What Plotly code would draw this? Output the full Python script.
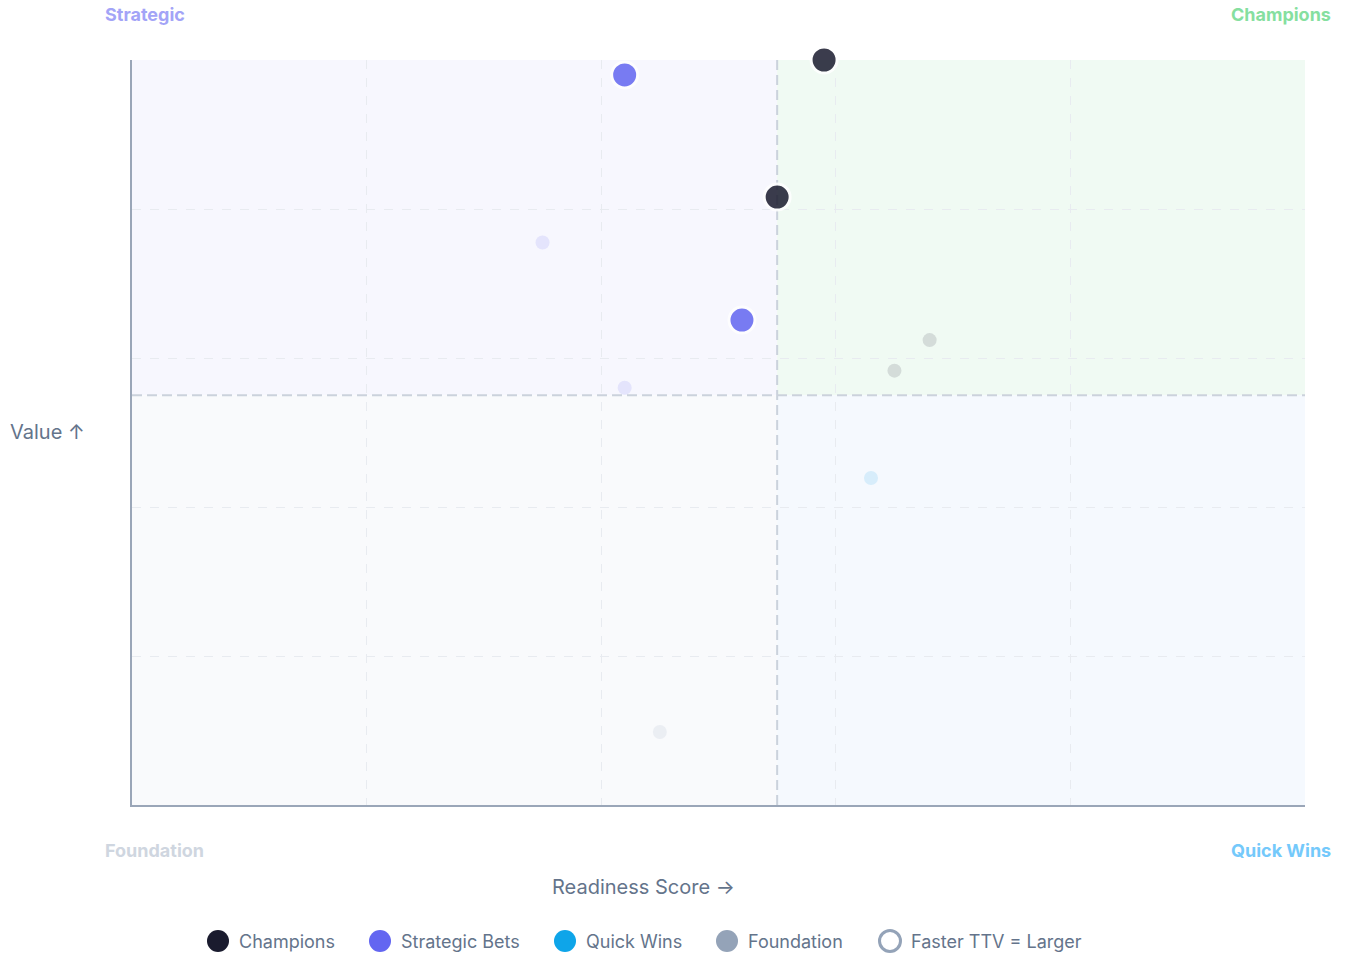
import plotly.graph_objects as go

# ---- data ----
categories = ["Champions", "Strategic Bets", "Quick Wins", "Foundation"]
colors = {"Champions": "#1a1b2e", "Strategic Bets": "#6366f1",
          "Quick Wins": "#0ea5e9", "Foundation": "#94a3b8"}

# highlighted (active) initiatives
active_cat = ["Champions", "Champions", "Strategic Bets", "Strategic Bets"]
active_x = [59.0, 55.0, 42.0, 52.0]
active_y = [100.0, 81.6, 98.0, 65.1]

# dimmed initiatives
dim_cat = ["Strategic Bets", "Strategic Bets", "Foundation", "Quick Wins", "Champions", "Champions"]
dim_x = [35.0, 42.0, 45.0, 63.0, 65.0, 68.0]
dim_y = [75.5, 56.0, 9.8, 43.9, 58.3, 62.4]

legend_labels = ["Champions", "Strategic Bets", "Quick Wins", "Foundation", "Faster TTV = Larger"]

threshold_x = 55
threshold_y = 55

FONT = "Inter"
TEXT = "#64748b"
fig = go.Figure()

# plot-area geometry (pixels) for paper conversions
L, R, T, B = 132, 1305, 60, 805
def px(x):
    return (x - L) / (R - L)
def py(y):
    return (B - y) / (B - T)

# quadrant backgrounds
quad = [
    (0, threshold_x, threshold_y, 100, "#f7f7fe"),
    (threshold_x, 100, threshold_y, 100, "#f0faf3"),
    (threshold_x, 100, 0, threshold_y, "#f5f9fe"),
    (0, threshold_x, 0, threshold_y, "#f9fafc"),
]
for x0, x1, y0, y1, c in quad:
    fig.add_shape(type="rect", xref="x", yref="y", x0=x0, x1=x1, y0=y0, y1=y1,
                  fillcolor=c, line_width=0, layer="below")

# threshold lines
fig.add_shape(type="line", xref="x", yref="y", x0=threshold_x, x1=threshold_x, y0=0, y1=100,
              line=dict(color="#cbd2dc", width=2, dash="10px,5px"), layer="below")
fig.add_shape(type="line", xref="x", yref="y", x0=0, x1=100, y0=threshold_y, y1=threshold_y,
              line=dict(color="#cbd2dc", width=2, dash="10px,5px"), layer="below")

# dim points
for cat in categories:
    xs = [x for x, c in zip(dim_x, dim_cat) if c == cat]
    ys = [y for y, c in zip(dim_y, dim_cat) if c == cat]
    if xs:
        fig.add_trace(go.Scatter(x=xs, y=ys, mode="markers", showlegend=False, name=cat,
                                 marker=dict(size=14, color=colors[cat], opacity=0.13, line_width=0),
                                 cliponaxis=False, hoverinfo="skip"))

# active points
for cat in categories:
    xs = [x for x, c in zip(active_x, active_cat) if c == cat]
    ys = [y for y, c in zip(active_y, active_cat) if c == cat]
    if xs:
        fig.add_trace(go.Scatter(x=xs, y=ys, mode="markers", showlegend=False, name=cat,
                                 marker=dict(size=26, color=colors[cat], opacity=0.85,
                                             line=dict(color="white", width=3)),
                                 cliponaxis=False))

# custom legend (drawn in paper coordinates)
leg_cx = [218, 380, 565, 727, 890]
leg_y = 941
leg_fill = [colors[c] for c in categories] + ["white"]
leg_line = [None, None, None, None, "#94a3b8"]
for lab, cx, fc, lc in zip(legend_labels, leg_cx, leg_fill, leg_line):
    r = 11 if lc is None else 10.5
    fig.add_shape(type="circle", xref="paper", yref="paper",
                  x0=px(cx - r), x1=px(cx + r), y0=py(leg_y + r), y1=py(leg_y - r),
                  fillcolor=fc, line=dict(color=lc or fc, width=3 if lc else 0))
    fig.add_annotation(text=lab, xref="paper", yref="paper", x=px(cx + 19), y=py(leg_y),
                       xanchor="left", yanchor="middle", showarrow=False,
                       font=dict(family=FONT, size=18, color=TEXT))

# quadrant labels
qlabels = [
    ("Strategic", px(103), py(15), "left", "#a3a4f7"),
    ("Champions", px(1333), py(15), "right", "#86dfa0"),
    ("Foundation", px(103), py(850), "left", "#cfd6e0"),
    ("Quick Wins", px(1333), py(850), "right", "#74c9fb"),
]
for t, x, y, xa, c in qlabels:
    fig.add_annotation(text=f"<b>{t}</b>", xref="paper", yref="paper", x=x, y=y,
                       xanchor=xa, yanchor="middle", showarrow=False,
                       font=dict(family=FONT, size=18, color=c))

# axis titles
fig.add_annotation(text="Readiness Score →", xref="paper", yref="paper", x=px(643.5), y=py(887),
                   xanchor="center", yanchor="middle", showarrow=False,
                   font=dict(family=FONT, size=20, color=TEXT))
fig.add_annotation(text="Value ↑", xref="paper", yref="paper", x=px(8), y=py(432),
                   xanchor="left", yanchor="middle", showarrow=False,
                   font=dict(family=FONT, size=20, color=TEXT))

axis_common = dict(range=[0, 100], dtick=20, showticklabels=False, ticks="",
                   showgrid=True, gridcolor="#e8ebf0", griddash="dash", gridwidth=1,
                   zeroline=False, showline=True, linecolor="#9aa6b8", linewidth=1.5,
                   fixedrange=True)
fig.update_xaxes(**axis_common)
fig.update_yaxes(**axis_common)

fig.update_layout(
    width=1351, height=956,
    margin=dict(l=L, r=1351 - R, t=T, b=956 - B, autoexpand=False),
    paper_bgcolor="white", plot_bgcolor="white",
    font=dict(family=FONT, color=TEXT),
    showlegend=False,
)

fig.write_html("out.html")
